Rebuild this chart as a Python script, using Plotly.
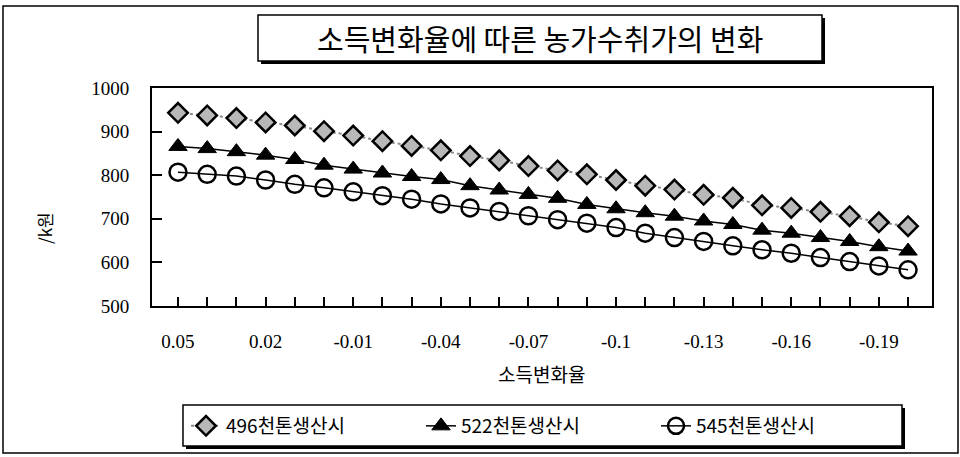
import plotly.graph_objects as go

# ---- data ----
categories = ["0.05", "0.04", "0.03", "0.02", "0.01", "0", "-0.01", "-0.02", "-0.03",
              "-0.04", "-0.05", "-0.06", "-0.07", "-0.08", "-0.09", "-0.1", "-0.11",
              "-0.12", "-0.13", "-0.14", "-0.15", "-0.16", "-0.17", "-0.18", "-0.19", "-0.2"]
tick_labels = ["0.05", "0.02", "-0.01", "-0.04", "-0.07", "-0.1", "-0.13", "-0.16", "-0.19"]

s496 = [943, 937, 931, 921, 914, 901, 891, 878, 867, 857, 844, 834, 821, 811, 802, 789,
        776, 767, 755, 748, 731, 725, 716, 706, 692, 683]
s522 = [866, 861, 854, 846, 836, 823, 814, 805, 797, 790, 776, 766, 756, 747, 733, 723,
        714, 706, 695, 687, 674, 667, 657, 648, 636, 626]
s545 = [807, 802, 798, 789, 779, 771, 762, 753, 745, 734, 725, 717, 707, 698, 690, 680,
        667, 657, 648, 638, 629, 621, 611, 602, 592, 583]
names = ["496천톤생산시", "522천톤생산시", "545천톤생산시"]

title_text = "소득변화율에 따른 농가수취가의 변화"
x_title = "소득변화율"
y_title = "/k원"

# ---- layout geometry (pixels) ----
W, H = 960, 457
PL, PR, PT, PB = 152, 932, 88, 306


def px(x):
    return (x - PL) / (PR - PL)


def py(y):
    return (PB - y) / (PB - PT)


SERIF = "Liberation Serif, Noto Sans CJK KR, serif"
KR = "Noto Sans CJK KR, Liberation Serif, sans-serif"

fig = go.Figure()
fig.add_trace(go.Scatter(
    x=categories, y=s496, name=names[0], mode="lines+markers",
    line=dict(color="#8a8a8a", width=2, dash="dot"),
    marker=dict(symbol="diamond", size=15, color="#b8b8b8",
                line=dict(color="black", width=2.5))))
fig.add_trace(go.Scatter(
    x=categories, y=s522, name=names[1], mode="lines+markers",
    line=dict(color="black", width=1.5),
    marker=dict(symbol="triangle-up", size=16, color="black",
                line=dict(color="black", width=1))))
fig.add_trace(go.Scatter(
    x=categories, y=s545, name=names[2], mode="lines+markers",
    line=dict(color="black", width=1.5),
    marker=dict(symbol="circle-open", size=17, color="black",
                line=dict(color="black", width=2.5))))

ticktext = [c if c in tick_labels else "" for c in categories]

shapes = []
# outer frame
shapes.append(dict(type="rect", xref="paper", yref="paper",
                   x0=px(3), x1=px(958), y0=py(453), y1=py(6),
                   line=dict(color="black", width=1.5), fillcolor="rgba(0,0,0,0)", layer="below"))


def shadow_box(x0, y0, x1, y1, off=3):
    return [
        dict(type="rect", xref="paper", yref="paper",
             x0=px(x0 + off), x1=px(x1 + off), y0=py(y1 + off), y1=py(y0 + off),
             line=dict(color="black", width=0), fillcolor="black", layer="below"),
        dict(type="rect", xref="paper", yref="paper",
             x0=px(x0), x1=px(x1), y0=py(y1), y1=py(y0),
             line=dict(color="black", width=1.5), fillcolor="white", layer="below"),
    ]


shapes += shadow_box(258, 15, 822, 61)
shapes += shadow_box(183, 405, 902, 446)

annotations = [
    dict(text=title_text, xref="paper", yref="paper", x=px(540), y=py(38),
         xanchor="center", yanchor="middle", showarrow=False,
         font=dict(family=KR, size=29, color="black")),
    dict(text=x_title, xref="paper", yref="paper", x=px(541), y=py(373),
         xanchor="center", yanchor="middle", showarrow=False,
         font=dict(family=KR, size=19, color="black")),
    dict(text=y_title, xref="paper", yref="paper", x=px(45), y=py(228),
         xanchor="center", yanchor="middle", showarrow=False, textangle=-90,
         font=dict(family=KR, size=17, color="black")),
]

fig.update_layout(
    width=W, height=H,
    margin=dict(l=PL, r=W - PR, t=PT, b=H - PB, autoexpand=False),
    paper_bgcolor="white", plot_bgcolor="white",
    showlegend=True,
    legend=dict(orientation="h", x=px(186), y=py(426), xanchor="left", yanchor="middle",
                bgcolor="rgba(0,0,0,0)", borderwidth=0,
                entrywidth=190, entrywidthmode="pixels",
                font=dict(family=KR, size=19, color="black"),
                itemsizing="trace"),
    shapes=shapes,
    annotations=annotations,
    xaxis=dict(type="category", range=[-0.89, 25.82],
               tickmode="array", tickvals=categories, ticktext=ticktext,
               ticks="inside", ticklen=9, tickwidth=1.5, tickcolor="black",
               showline=True, linecolor="black", linewidth=2, mirror=True,
               showgrid=False, zeroline=False,
               tickfont=dict(family=SERIF, size=19, color="black"),
               ticklabelstandoff=17),
    yaxis=dict(range=[500, 1000], dtick=100, tick0=500,
               ticks="inside", ticklen=10, tickwidth=1.5, tickcolor="black",
               showline=True, linecolor="black", linewidth=2, mirror=True,
               showgrid=False, zeroline=False,
               tickfont=dict(family=SERIF, size=19, color="black"),
               ticklabelstandoff=17),
)

fig.write_html("out.html", config={"displayModeBar": False},
               post_script="document.body.style.margin='0';document.body.style.overflow='hidden';")
